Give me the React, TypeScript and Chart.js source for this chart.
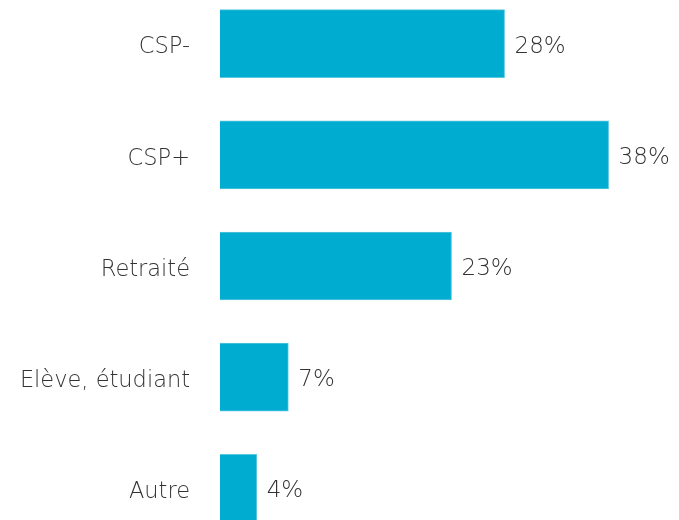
import React, { useEffect, useRef } from "react";
import { Chart, registerables } from "chart.js";

Chart.register(...registerables);

const categories = ["CSP-", "CSP+", "Retraité", "Elève, étudiant", "Autre"];
const values = [27.9, 38.1, 22.7, 6.7, 3.6];
const valueLabels = ["28%", "38%", "23%", "7%", "4%"];

const FONT = "'DejaVu Sans', sans-serif";
const TEXT = "#333333";

const valueLabelPlugin = {
  id: "valueLabels",
  afterDatasetsDraw(chart: any) {
    const ctx = chart.ctx;
    const meta = chart.getDatasetMeta(0);
    ctx.save();
    ctx.fillStyle = TEXT;
    ctx.font = `200 23px ${FONT}`;
    ctx.textAlign = "left";
    ctx.textBaseline = "middle";
    meta.data.forEach((bar: any, i: number) => {
      ctx.fillText(valueLabels[i], bar.x + 10, bar.y + 3);
    });
    ctx.restore();
  },
};

export default function App() {
  const ref = useRef<HTMLCanvasElement>(null);
  useEffect(() => {
    if (!ref.current) return;
    const chart = new Chart(ref.current, {
      type: "bar",
      data: {
        labels: categories,
        datasets: [
          {
            data: values,
            backgroundColor: "#00ACCF",
            borderColor: "#5AC6DF",
            borderWidth: 1,
            barThickness: 68,
          },
        ],
      },
      options: {
        animation: false,
        responsive: false,
        maintainAspectRatio: false,
        indexAxis: "y",
        layout: { padding: 0 },
        plugins: { legend: { display: false }, tooltip: { enabled: false } },
        scales: {
          x: {
            display: false,
            min: 0,
            max: 45,
            grid: { display: false },
          },
          y: {
            grid: { display: false, drawTicks: false },
            border: { display: false },
            ticks: {
              color: TEXT,
              font: { family: FONT, size: 22.5, weight: "200" },
              padding: 30,
              labelOffset: 4,
            },
            afterFit(scale: any) {
              scale.width = 220;
              scale.paddingTop = 0;
              scale.paddingBottom = 0;
            },
          },
        },
      },
      plugins: [valueLabelPlugin],
    });
    return () => chart.destroy();
  }, []);
  return (
    <canvas
      ref={ref}
      width={679}
      height={556}
      style={{ position: "absolute", left: 0, top: -12, width: 679, height: 556 }}
    />
  );
}
